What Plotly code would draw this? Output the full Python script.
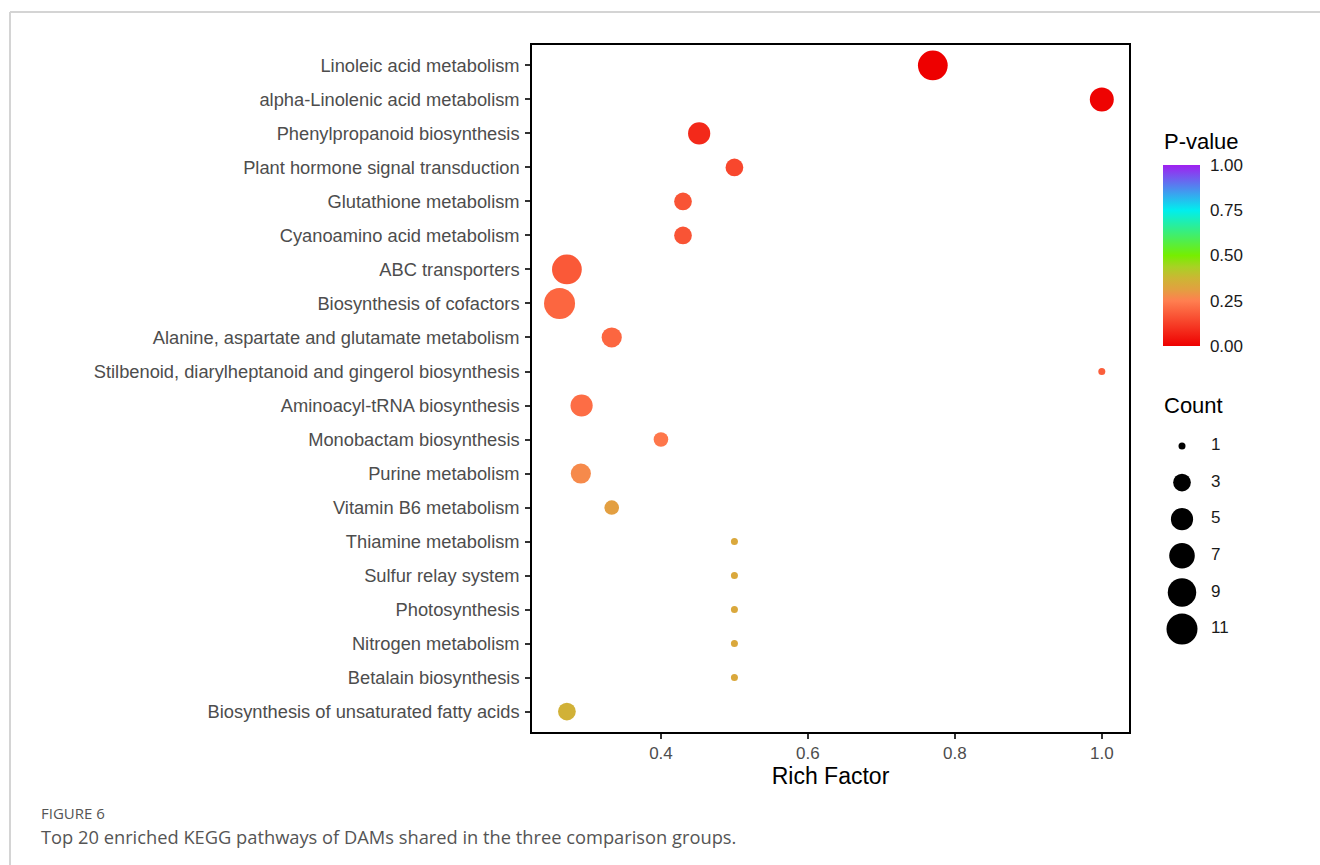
import numpy as np
import plotly.graph_objects as go

# ---- KEGG enrichment results (top 20 pathways, listed top to bottom) ----
pathways = [
    "Linoleic acid metabolism",
    "alpha-Linolenic acid metabolism",
    "Phenylpropanoid biosynthesis",
    "Plant hormone signal transduction",
    "Glutathione metabolism",
    "Cyanoamino acid metabolism",
    "ABC transporters",
    "Biosynthesis of cofactors",
    "Alanine, aspartate and glutamate metabolism",
    "Stilbenoid, diarylheptanoid and gingerol biosynthesis",
    "Aminoacyl-tRNA biosynthesis",
    "Monobactam biosynthesis",
    "Purine metabolism",
    "Vitamin B6 metabolism",
    "Thiamine metabolism",
    "Sulfur relay system",
    "Photosynthesis",
    "Nitrogen metabolism",
    "Betalain biosynthesis",
    "Biosynthesis of unsaturated fatty acids",
]
rich_factor = [0.77, 1.0, 0.452, 0.5, 0.43, 0.43, 0.272, 0.262, 0.333, 1.0,
               0.292, 0.4, 0.291, 0.333, 0.5, 0.5, 0.5, 0.5, 0.5, 0.272]
counts = [10, 6, 5, 3, 3, 3, 10, 11, 4, 1,
          5, 2, 4, 2, 1, 1, 1, 1, 1, 3]
p_values = [0.0, 0.005, 0.08, 0.14, 0.165, 0.165, 0.175, 0.2, 0.2, 0.185,
            0.215, 0.235, 0.27, 0.31, 0.335, 0.335, 0.335, 0.335, 0.335, 0.36]

count_breaks = [1, 3, 5, 7, 9, 11]
pvalue_ticks = [0.0, 0.25, 0.5, 0.75, 1.0]
pvalue_ticktext = ["0.00", "0.25", "0.50", "0.75", "1.00"]
xticks = [0.4, 0.6, 0.8, 1.0]
xticktext = ["0.4", "0.6", "0.8", "1.0"]

# ---- page geometry (pixels) ----
W, H = 1320, 865
L, T, B, R = 532, 45, 133, 0
PW, PH = W - L - R, H - T - B


def xp(px):
    return (px - L) / PW


def yp(py):
    return 1 - (py - T) / PH


PANEL_RIGHT = 1129
FONT = "Liberation Sans"
CAPTION_FONT = "Open Sans"

# gradient red -> coral -> chartreuse -> cyan -> purple, with extra stops
# between coral and chartreuse so the blend stays warm/golden
colorscale = [[0.0, "#EE0000"], [0.25, "#FF7F50"], [0.3125, "#E2A040"],
              [0.375, "#CCB634"], [0.4375, "#A8D224"], [0.5, "#76EE00"],
              [0.75, "#00EEEE"], [1.0, "#A020F0"]]

CMIN, CMAX = 1, 11


def dot_diameter(c):
    # area-style size scale: smallest count -> 7 px, largest -> 31 px
    c = np.asarray(c, dtype=float)
    return 7 + 24 * np.sqrt((c - CMIN) / (CMAX - CMIN))


# colorbar geometry
CB_LEFT, CB_TOP, CB_BOTTOM, CB_THICK = 1163, 165, 346, 37
CB_LEN = CB_BOTTOM - CB_TOP

fig = go.Figure()

fig.add_trace(go.Scatter(
    x=rich_factor, y=pathways, mode="markers",
    marker=dict(
        size=dot_diameter(counts), sizemode="diameter",
        color=p_values, cmin=0, cmax=1, colorscale=colorscale,
        line=dict(width=0), opacity=1,
        colorbar=dict(
            thickness=CB_THICK, thicknessmode="pixels",
            len=CB_LEN, lenmode="pixels",
            x=xp(CB_LEFT), xanchor="left", xpad=0,
            y=yp((CB_TOP + CB_BOTTOM) / 2), yanchor="middle", ypad=0,
            outlinewidth=0,
            tickvals=pvalue_ticks, ticktext=pvalue_ticktext,
            ticks="outside", ticklen=7, tickcolor="rgba(0,0,0,0)",
            tickfont=dict(size=17, color="#1a1a1a", family=FONT),
        ),
    ),
    showlegend=False, hoverinfo="x+y",
))

# ---- size legend ("Count") drawn in its own small axes ----
LEG_DOT_X, LEG_TEXT_X = 1182, 1211
LEG_FIRST_Y, LEG_STEP = 446, 36.6
unit = LEG_TEXT_X - LEG_DOT_X
leg_top = LEG_FIRST_Y - LEG_STEP / 2
leg_bottom = LEG_FIRST_Y + LEG_STEP * (len(count_breaks) - 0.5)

fig.add_trace(go.Scatter(
    x=[0] * len(count_breaks), y=list(range(len(count_breaks))),
    mode="markers",
    marker=dict(size=dot_diameter(count_breaks), sizemode="diameter",
                color="#000000", opacity=1, line=dict(width=0)),
    xaxis="x2", yaxis="y2", showlegend=False, hoverinfo="skip",
))
fig.add_trace(go.Scatter(
    x=[1] * len(count_breaks), y=list(range(len(count_breaks))),
    mode="text", text=[str(c) for c in count_breaks],
    textposition="middle right",
    textfont=dict(size=17, color="#1a1a1a", family=FONT),
    xaxis="x2", yaxis="y2", showlegend=False, hoverinfo="skip",
))

shapes = []
# white tick marks on both edges of the colour bar
for v in pvalue_ticks:
    py = CB_BOTTOM - v * CB_LEN
    for x0, x1 in ((CB_LEFT, CB_LEFT + 7), (CB_LEFT + CB_THICK - 7, CB_LEFT + CB_THICK)):
        shapes.append(dict(type="line", xref="paper", yref="paper",
                           x0=xp(x0), x1=xp(x1), y0=yp(py), y1=yp(py),
                           line=dict(color="white", width=1.2)))
# light frame around the figure block
shapes.append(dict(type="line", xref="paper", yref="paper",
                   x0=xp(10), x1=xp(W), y0=yp(12), y1=yp(12),
                   line=dict(color="#D4D4D4", width=2)))
shapes.append(dict(type="line", xref="paper", yref="paper",
                   x0=xp(10), x1=xp(10), y0=yp(12), y1=yp(H),
                   line=dict(color="#D4D4D4", width=2)))

annotations = [
    dict(text="P-value", xref="paper", yref="paper", x=xp(1162), y=yp(141),
         xanchor="left", yanchor="middle", showarrow=False,
         font=dict(size=22, color="black", family=FONT)),
    dict(text="Count", xref="paper", yref="paper", x=xp(1162), y=yp(405),
         xanchor="left", yanchor="middle", showarrow=False,
         font=dict(size=22, color="black", family=FONT)),
    dict(text="FIGURE 6", xref="paper", yref="paper", x=xp(39), y=yp(813),
         xanchor="left", yanchor="middle", showarrow=False,
         font=dict(size=15, color="#555555", family=CAPTION_FONT)),
    dict(text="Top 20 enriched KEGG pathways of DAMs shared in the three comparison groups.",
         xref="paper", yref="paper", x=xp(39), y=yp(836),
         xanchor="left", yanchor="middle", showarrow=False,
         font=dict(size=18.3, color="#555555", family=CAPTION_FONT)),
]

fig.update_layout(
    width=W, height=H,
    margin=dict(l=L, r=R, t=T, b=B, pad=0),
    paper_bgcolor="white", plot_bgcolor="white",
    font=dict(family=FONT),
    xaxis=dict(
        domain=[0, xp(PANEL_RIGHT)],
        range=[0.2245, 1.037],
        tickvals=xticks, ticktext=xticktext,
        ticks="outside", ticklen=5, tickwidth=1.5, tickcolor="#333333",
        tickfont=dict(size=17, color="#4D4D4D", family=FONT),
        showgrid=False, zeroline=False,
        showline=True, linecolor="black", linewidth=1.5, mirror=True,
        title=dict(text="Rich Factor", font=dict(size=23, color="black", family=FONT),
                   standoff=4),
    ),
    yaxis=dict(
        categoryorder="array", categoryarray=pathways[::-1],
        range=[-0.6, len(pathways) - 0.4],
        ticks="outside", ticklen=5, tickwidth=1.5, tickcolor="#333333",
        tickfont=dict(size=18.3, color="#4D4D4D", family=FONT),
        ticklabelstandoff=2,
        showgrid=False, zeroline=False,
        showline=True, linecolor="black", linewidth=1.5, mirror=True,
    ),
    xaxis2=dict(
        domain=[xp(1160), xp(1260)],
        range=[(1160 - LEG_DOT_X) / unit, (1260 - LEG_DOT_X) / unit],
        visible=False, fixedrange=True, anchor="y2",
    ),
    yaxis2=dict(
        domain=[yp(leg_bottom), yp(leg_top)],
        range=[len(count_breaks) - 0.5, -0.5],
        visible=False, fixedrange=True, anchor="x2",
    ),
    shapes=shapes,
    annotations=annotations,
)

fig.write_html("out.html")
